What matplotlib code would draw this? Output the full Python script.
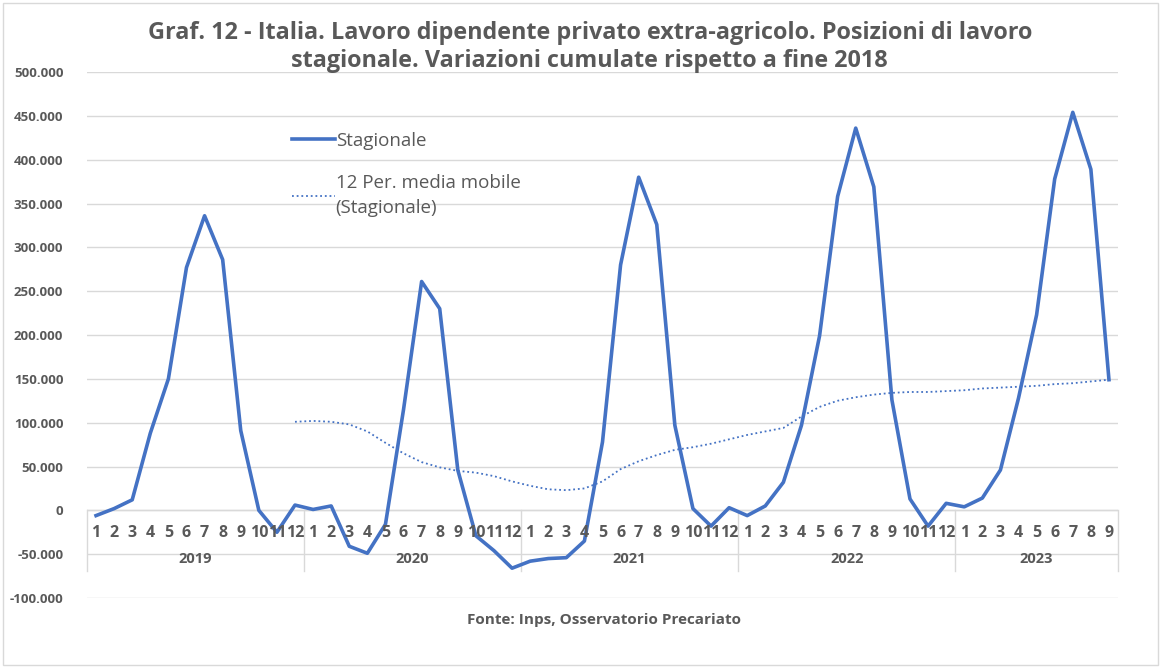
import numpy as np
import matplotlib.pyplot as plt
from matplotlib.patches import Rectangle

plt.rcParams['font.family'] = ['Open Sans', 'DejaVu Sans']

years = ["2019", "2020", "2021", "2022", "2023"]
months_per_year = [12, 12, 12, 12, 9]

# Stagionale, thousands of positions
stagionale = np.array([
    -6, 2, 12, 88, 150, 277, 336, 286, 91, 0, -25, 6,
    1, 5, -41, -49, -16, 115, 261, 230, 46, -29, -46, -66,
    -58, -55, -54, -35, 78, 280, 380, 326, 97, 2, -18, 3,
    -6, 5, 32, 97, 199, 358, 436, 369, 126, 13, -18, 8,
    4, 14, 46, 128, 223, 378, 454, 389, 149,
]) * 1000

# 12-period moving average, starts at Dec 2019
media_mobile = np.array([
    np.nan] * 11 + [
    101,
    102, 101, 98, 90, 77, 65, 55, 49, 45, 43, 39, 33,
    28, 24, 23, 25, 33, 47, 56, 63, 69, 72, 76, 81,
    86, 90, 94, 107, 118, 125, 129, 132, 134, 135, 135, 136,
    137, 139, 140, 141, 142, 144, 145, 147, 149,
]) * 1000

month_labels = [str(m) for n in months_per_year for m in range(1, n + 1)]
x = np.arange(len(stagionale))

BLUE = "#4472C4"
GRAY = "#595959"
GRID = "#D9D9D9"

fig = plt.figure(figsize=(11.61, 6.67), dpi=100)
ax = fig.add_axes([87 / 1161, 1 - 598 / 667, (1118 - 87) / 1161, (598 - 72) / 667])

ax.plot(x, stagionale, color=BLUE, lw=2.6, label="Stagionale", zorder=3)
ax.plot(x, media_mobile, color=BLUE, lw=1.3, linestyle=(0, (1, 1.6)),
        label="12 Per. media mobile\n(Stagionale)", zorder=3)

ax.set_xlim(-0.5, len(x) - 0.5)
ax.set_ylim(-100000, 500000)
yt = np.arange(-100000, 500001, 50000)
ax.set_yticks(yt)
ax.set_yticklabels([f"{v:,}".replace(",", ".") for v in yt],
                   fontsize=9.5, fontweight="bold", color=GRAY)
ax.tick_params(axis="y", length=0, pad=17)
ax.set_xticks([])
ax.grid(axis="y", color=GRID, lw=1)
ax.set_axisbelow(True)
for s in ax.spines.values():
    s.set_visible(False)

# category axis at zero
ax.axhline(0, color=GRID, lw=1, zorder=1)
for xi, lab in zip(x, month_labels):
    ax.text(xi, -26000, lab, ha="center", va="center", fontsize=11.5,
            fontweight="bold", color=GRAY)
bounds = np.concatenate([[0], np.cumsum(months_per_year)]) - 0.5
for b in bounds:
    ax.plot([b, b], [0, -69000], color=GRID, lw=1, zorder=1, clip_on=False)
for i, yr in enumerate(years):
    ax.text((bounds[i] + bounds[i + 1]) / 2, -55000, yr, ha="center",
            va="center", fontsize=10.5, fontweight="bold", color=GRAY)

leg = ax.legend(loc="upper left", bbox_to_anchor=(0.182, 0.918), frameon=False,
                fontsize=13.5, handlelength=2.3, handletextpad=0.05,
                labelspacing=1.3, labelcolor=GRAY)
leg.get_texts()[1].set_linespacing(1.5)

fig.text(0.508, 0.968, "Graf. 12 - Italia. Lavoro dipendente privato extra-agricolo. Posizioni di lavoro\n"
         "stagionale. Variazioni cumulate rispetto a fine 2018",
         ha="center", va="top", fontsize=16.8, fontweight="bold", color=GRAY,
         linespacing=1.22)
fig.text(0.52, 1 - 620 / 667, "Fonte: Inps, Osservatorio Precariato", ha="center",
         va="center", fontsize=11, fontweight="bold", color=GRAY)

fig.patches.append(Rectangle((0.003, 0.003), 0.994, 0.992, transform=fig.transFigure,
                             fill=False, edgecolor=GRID, lw=1))

fig.savefig("out.png", dpi=100)
